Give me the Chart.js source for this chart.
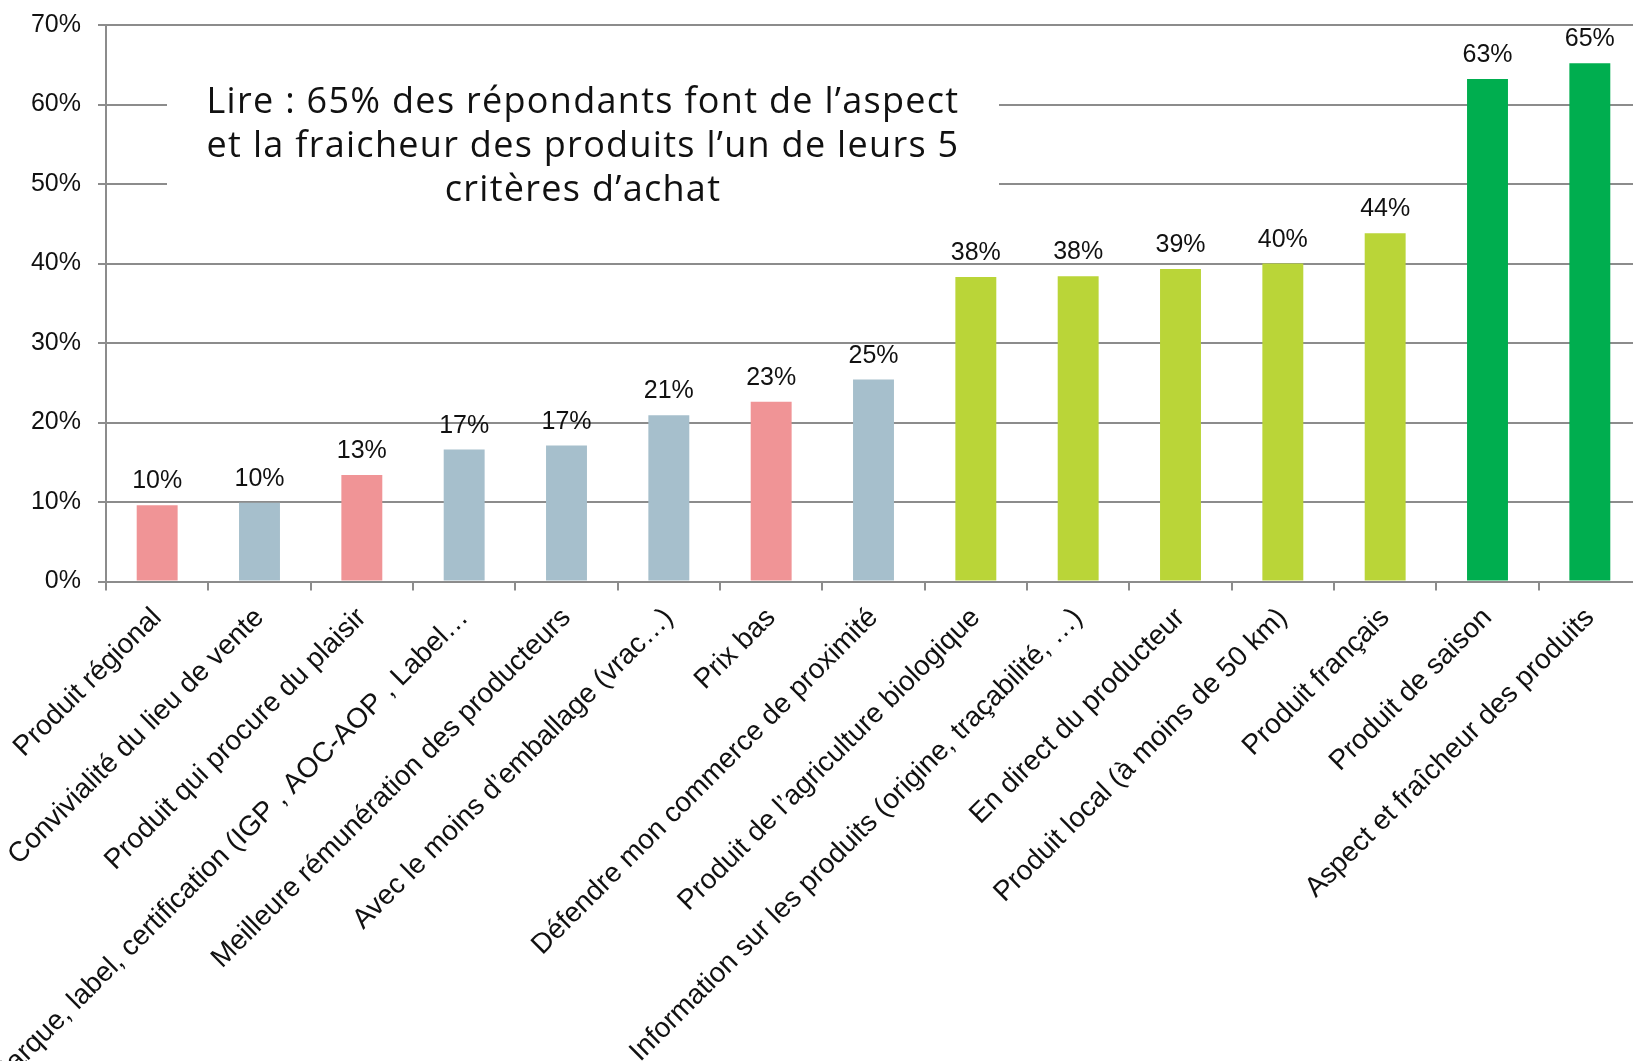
<!DOCTYPE html>
<html lang="fr">
<head>
<meta charset="utf-8">
<title>Critères d'achat</title>
<script src="https://cdn.jsdelivr.net/npm/chart.js@4.4.1/dist/chart.umd.min.js"></script>
<style>
  html, body { margin: 0; padding: 0; background: #fff; overflow: hidden; }
  .wrap { width: 1633px; height: 1061px; overflow: hidden; }
  canvas { display: block; }
</style>
</head>
<body>
<div class="wrap"><canvas id="criteresChart" width="1650" height="1061"></canvas></div>
<script>
// ================= Données =================
const criteres = [
  'Produit régional',
  'Convivialité du lieu de vente',
  'Produit qui procure du plaisir',
  'Marque, label, certification (IGP , AOC-AOP , Label…',
  'Meilleure rémunération des producteurs',
  'Avec le moins d’emballage (vrac…)',
  'Prix bas',
  'Défendre mon commerce de proximité',
  'Produit de l’agriculture biologique',
  'Information sur les produits (origine, traçabilité, …)',
  'En direct du producteur',
  'Produit local (à moins de 50 km)',
  'Produit français',
  'Produit de saison',
  'Aspect et fraîcheur des produits'
];
const pourcentages = [9.6, 9.9, 13.4, 16.6, 17.1, 20.9, 22.6, 25.4, 38.3, 38.4, 39.3, 40.0, 43.8, 63.2, 65.2];
const yTicks = [0, 10, 20, 30, 40, 50, 60, 70];
const noteLignes = [
  'Lire : 65% des répondants font de l’aspect',
  'et la fraicheur des produits l’un de leurs 5',
  'critères d’achat'
];

// ================= Styles =================
const ROSE = '#f09496', GRIS_BLEU = '#a6bfcc', VERT_CLAIR = '#bad538', VERT = '#00ae4f';
const barColors = [ROSE, GRIS_BLEU, ROSE, GRIS_BLEU, GRIS_BLEU, GRIS_BLEU, ROSE, GRIS_BLEU,
  VERT_CLAIR, VERT_CLAIR, VERT_CLAIR, VERT_CLAIR, VERT_CLAIR, VERT, VERT];
const AXE = '#8c8c8c';
const TEXTE = '#111';
const FONT = '"Liberation Sans", Arial, sans-serif';

// encadré de lecture, dessiné par-dessus la grille et sous les barres
const notePlugin = {
  id: 'note',
  beforeDatasetsDraw(chart){
    const ctx = chart.ctx;
    ctx.save();
    ctx.fillStyle = '#fff';
    ctx.fillRect(167, 32, 832, 222);
    ctx.fillStyle = TEXTE;
    ctx.font = '400 36px "Open Sans", Lato, sans-serif';
    ctx.letterSpacing = '1.3px';
    ctx.textAlign = 'center';
    ctx.textBaseline = 'middle';
    noteLignes.forEach((l,i)=>ctx.fillText(l, 583, 103 + i*44));
    ctx.restore();
  }
};

// valeurs au-dessus des barres
const valeursPlugin = {
  id: 'valeurs',
  afterDatasetsDraw(chart){
    const ctx = chart.ctx;
    const meta = chart.getDatasetMeta(0);
    ctx.save();
    ctx.fillStyle = TEXTE;
    ctx.font = '25px ' + FONT;
    ctx.textAlign = 'center';
    ctx.textBaseline = 'alphabetic';
    meta.data.forEach((bar,i)=>{
      ctx.fillText(Math.round(pourcentages[i]) + '%', bar.x, bar.y - 17);
    });
    ctx.restore();
  }
};

const ctx = document.getElementById('criteresChart').getContext('2d');
new Chart(ctx, {
  type: 'bar',
  data: {
    labels: criteres,
    datasets: [{ data: pourcentages, backgroundColor: barColors, borderWidth: 0,
      barPercentage: 0.4, categoryPercentage: 1 }]
  },
  options: {
    responsive: false,
    animation: false,
    layout: { padding: { top: 25, right: 9, left: 0, bottom: 0 } },
    plugins: { legend: { display: false }, tooltip: { enabled: false } },
    scales: {
      x: {
        grid: { drawOnChartArea: false, color: AXE, lineWidth: 2, tickLength: 9, offset: true },
        border: { color: AXE, width: 2 },
        ticks: { color: TEXTE, font: { family: FONT, size: 28 }, autoSkip: false,
          minRotation: 45, maxRotation: 45, padding: 11 },
        afterFit: s => { s.height = 479.5; }
      },
      y: {
        min: 0, max: 70,
        afterBuildTicks: s => { s.ticks = yTicks.map(v=>({ value: v })); },
        grid: { color: AXE, lineWidth: 2, tickLength: 8 },
        border: { color: AXE, width: 2 },
        ticks: { color: TEXTE, font: { family: FONT, size: 25 }, padding: 17,
          callback: v => v + '%' },
        // largeur fixe de l'axe, sans marge verticale pour les libellés
        afterFit: s => { s.width = 106; s.paddingTop = 0; s.paddingBottom = 0; }
      }
    }
  },
  plugins: [notePlugin, valeursPlugin]
});
</script>
</body>
</html>
